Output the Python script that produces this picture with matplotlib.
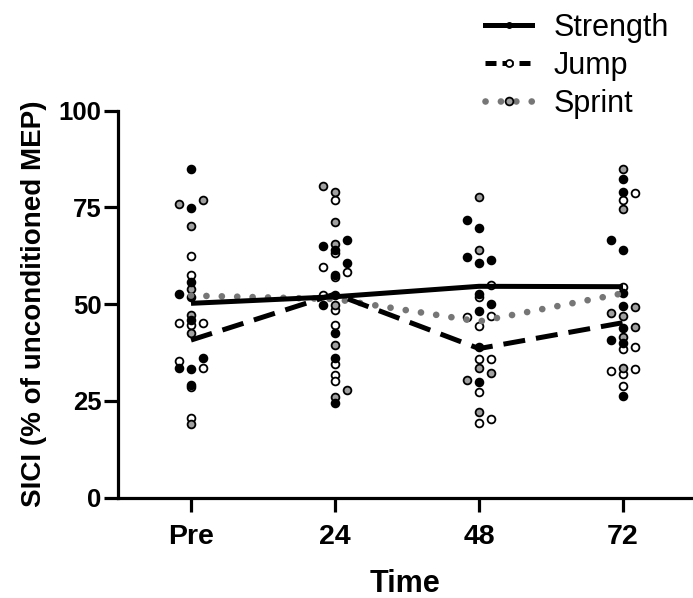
import matplotlib.pyplot as plt
from matplotlib.lines import Line2D

plt.rcParams["font.family"] = ["Liberation Sans", "DejaVu Sans"]

times = ["Pre", "24", "48", "72"]

# group means (lines)
strength_mean = [50.2, 51.9, 54.6, 54.5]
jump_mean = [40.7, 52.6, 38.5, 45.2]
sprint_mean = [52.2, 51.3, 45.5, 52.8]

# individual values per time point
strength_pts = [
    [84.8, 74.8, 55.8, 52.6, 51.9, 45.9, 36.0, 33.6, 33.2, 29.1],
    [66.5, 64.9, 64.0, 60.5, 57.5, 52.3, 49.7, 42.4, 36.0, 24.5],
    [71.7, 69.6, 62.1, 61.5, 60.7, 52.5, 49.9, 48.3, 39.0, 29.8],
    [82.3, 79.0, 66.7, 64.0, 52.8, 49.6, 43.7, 40.7, 40.0, 26.2],
]
jump_pts = [
    [62.4, 57.5, 45.2, 45.0, 44.6, 35.4, 33.4, 28.5, 20.6],
    [76.9, 63.1, 59.6, 58.3, 57.1, 52.3, 48.6, 44.6, 34.4, 31.7, 30.1],
    [54.9, 51.9, 46.9, 46.7, 44.3, 35.8, 35.8, 27.3, 20.2, 19.2],
    [78.8, 76.9, 54.3, 38.8, 38.3, 33.1, 32.8, 31.9, 28.8],
]
sprint_pts = [
    [76.9, 76.0, 70.3, 54.0, 47.2, 42.6, 19.0],
    [80.6, 79.0, 71.3, 65.5, 49.7, 39.4, 27.8, 26.0],
    [77.7, 64.0, 33.6, 32.1, 30.4, 22.2],
    [84.8, 74.5, 49.3, 47.6, 47.0, 44.1, 41.4, 33.4],
]

# scatter column (-1 left, 0 centre, 1 right)
strength_side = [
    [0, 0, 0, -1, 0, 0, 1, -1, 0, 0],
    [1, -1, 0, 1, 0, 0, -1, 0, 0, 0],
    [-1, 0, -1, 1, 0, 0, 1, 0, 0, 0],
    [0, 0, -1, 0, 0, 0, 0, -1, 0, 0],
]
jump_side = [
    [0, 0, 1, -1, 0, -1, 1, 0, 0],
    [0, 0, -1, 1, 0, -1, 0, 0, 0, 0, 0],
    [1, 0, 1, -1, 0, 1, 0, 0, 1, 0],
    [1, 0, 0, 1, 0, 1, -1, 0, 0],
]
sprint_side = [
    [1, -1, 0, 0, 0, 0, 0],
    [-1, 0, 0, 0, 0, 0, 1, 0],
    [0, 0, 0, 1, -1, 0],
    [0, 0, 1, -1, 0, 1, 0, 0],
]

GREY = "#a0a0a0"
DOT_GREY = "#767676"
JIT = 0.08

fig = plt.figure(figsize=(6.93, 5.98), dpi=100)
ax = fig.add_axes([118 / 693, 1 - 497.5 / 598, 1 - 118 / 693, (497.5 - 110.7) / 598])


def scatter_group(pts, side, face):
    for i, (vals, sides) in enumerate(zip(pts, side)):
        xs = [i + s * JIT for s in sides]
        ax.plot(xs, vals, "o", ms=5.6, mfc=face, mec="black", mew=1.3,
                ls="none", zorder=3)


scatter_group(jump_pts, jump_side, "white")
scatter_group(sprint_pts, sprint_side, GREY)
scatter_group(strength_pts, strength_side, "black")

x = list(range(len(times)))
ax.plot(x, sprint_mean, color=DOT_GREY, lw=4.8, ls=(0, (0.01, 2.3)),
        dash_capstyle="round", zorder=4)
ax.plot(x, jump_mean, color="black", lw=3.6, ls=(0, (4.4, 2.2)), zorder=4)
ax.plot(x, strength_mean, color="black", lw=3.6, solid_capstyle="butt", zorder=5)

ax.set_xlim(-0.507, 3.486)
ax.set_ylim(0, 100)
ax.set_xticks(x)
ax.set_xticklabels(times)
ax.set_yticks([0, 25, 50, 75, 100])

for s in ["top", "right"]:
    ax.spines[s].set_visible(False)
for s in ["left", "bottom"]:
    ax.spines[s].set_linewidth(2.3)
ax.spines["left"].set_capstyle("projecting")
ax.spines["bottom"].set_capstyle("projecting")

ax.tick_params(axis="both", width=2.3, length=10, color="black")
ax.tick_params(axis="y", labelsize=18.5, pad=2)
ax.tick_params(axis="x", labelsize=20.5, pad=9)
for lab in ax.get_xticklabels() + ax.get_yticklabels():
    lab.set_fontweight("bold")

ax.set_xlabel("Time", fontsize=22, fontweight="bold", labelpad=14)
ax.set_ylabel("SICI (% of unconditioned MEP)", fontsize=20, fontweight="bold",
              labelpad=8)

handles = [
    Line2D([], [], color="black", lw=3.6, marker="o", ms=4, mfc="black",
           mec="black"),
    Line2D([], [], color="black", lw=3.6, ls=(0, (2.2, 1.2)), marker="o",
           ms=5, mfc="white", mec="black", mew=1.3),
    Line2D([], [], color=DOT_GREY, lw=4.8, ls=(0, (0.01, 2.3)),
           dash_capstyle="round", marker="o", ms=5.6, mfc=GREY, mec="black",
           mew=1.3),
]
fig.legend(handles, ["Strength", "Jump", "Sprint"], loc="upper left",
           bbox_to_anchor=(485 / 693, 1 - 13 / 598), frameon=False,
           fontsize=22, handlelength=1.55, handletextpad=0.7,
           labelspacing=0.26, borderpad=0, borderaxespad=0)

fig.savefig("out.png", dpi=100)
